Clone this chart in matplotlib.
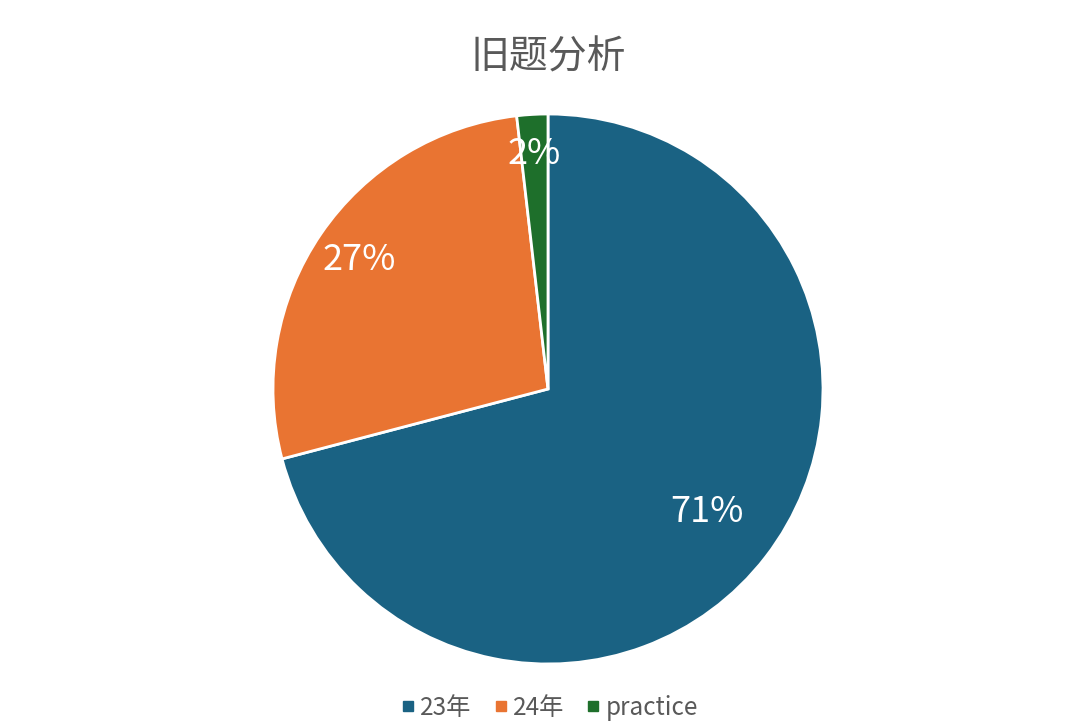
import matplotlib
matplotlib.use("Agg")
import matplotlib.pyplot as plt
from matplotlib.lines import Line2D

plt.rcParams['font.family'] = ['Noto Sans CJK SC', 'DejaVu Sans']

# 数据
labels = ["23年", "24年", "practice"]
counts = [39, 15, 1]
colors = ["#1a6283", "#e97432", "#1e6f2b"]
label_dist = [0.73, 0.83, 0.855]

W, H = 1080, 727
fig = plt.figure(figsize=(W / 100, H / 100), dpi=100)
cx, cy, r = 548, 389, 275
ax = fig.add_axes([(cx - r) / W, (H - cy - r) / H, 2 * r / W, 2 * r / H])

wedges, texts, autotexts = ax.pie(
    counts, colors=colors, startangle=90, counterclock=False,
    autopct=lambda p: f"{p:.0f}%", pctdistance=1.0,
    wedgeprops=dict(edgecolor="white", linewidth=2),
    textprops=dict(color="white", fontsize=26))

# 标签位置按Excel的样子调一下
for t, d in zip(autotexts, label_dist):
    x, y = t.get_position()
    t.set_position((x * d, y * d))

ax.set_xlim(-1, 1)
ax.set_ylim(-1, 1)
ax.set_aspect('equal')

fig.text(cx / W, 1 - 57 / H, "旧题分析", ha='center', va='center',
         fontsize=28, color="#595959")

handles = [Line2D([], [], marker='s', linestyle='', markersize=7,
                  markerfacecolor=c, markeredgecolor=c) for c in colors]
fig.legend(handles, labels, loc='center', bbox_to_anchor=(cx / W, 1 - 708 / H),
           ncol=3, frameon=False, fontsize=17.5, labelcolor="#595959",
           handletextpad=0.1, columnspacing=0.8, handlelength=0.8)

plt.savefig("out.png", dpi=100)
plt.close()
